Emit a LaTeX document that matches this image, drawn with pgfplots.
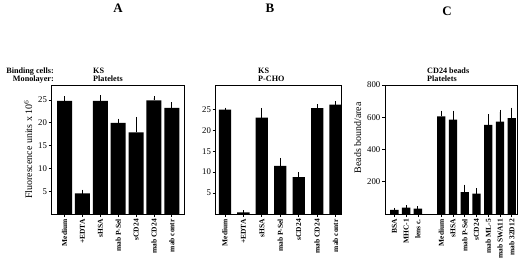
\documentclass[border=0pt]{standalone}
\usepackage{fontspec}
\setmainfont{Liberation Serif}
\usepackage{pgfplots}
\pgfplotsset{compat=1.18}
\pgfplotsset{
  panel/.style={
    scale only axis, anchor=south west,
    height=129bp,
    ybar, bar shift=0pt,
    axis line style={line width=0.7bp},
    tick align=outside, major tick length=3bp,
    every tick/.style={black, line width=0.7bp},
    xtick pos=bottom, ytick pos=left,
    ymin=0,
    /pgf/number format/assume math mode=true,
    yticklabel style={font=\fontsize{8.8}{9}\selectfont, inner sep=1.5bp},
    xticklabel style={font=\bfseries\fontsize{7.5}{8}\selectfont, rotate=90, anchor=east, inner sep=2bp},
    ylabel style={font=\fontsize{10}{11}\selectfont},
    xtick=data,
  },
  barstyle/.style={fill=black, draw=none,
    error bars/.cd, y dir=plus, y explicit,
    error bar style={black, line width=0.8bp},
    error mark options={black, mark size=2.2bp, line width=0.8bp}},
}
\begin{document}
\begin{tikzpicture}
\path[use as bounding box] (0bp,0bp) rectangle (520bp,267bp);
% headers
\node[font=\bfseries\fontsize{13}{14}\selectfont] at (118bp,259bp) {A};
\node[font=\bfseries\fontsize{13}{14}\selectfont] at (270bp,259bp) {B};
\node[font=\bfseries\fontsize{13}{14}\selectfont] at (447bp,256bp) {C};
\node[font=\bfseries\fontsize{8.2}{9}\selectfont, anchor=base east, inner sep=0] at (54bp,193bp) {Binding cells:};
\node[font=\bfseries\fontsize{8.2}{9}\selectfont, anchor=base east, inner sep=0] at (54bp,185bp) {Monolayer:};
\node[font=\bfseries\fontsize{8.2}{9}\selectfont, anchor=base west, inner sep=0] at (93bp,193bp) {KS};
\node[font=\bfseries\fontsize{8.2}{9}\selectfont, anchor=base west, inner sep=0] at (93bp,185bp) {Platelets};
\node[font=\bfseries\fontsize{8.2}{9}\selectfont, anchor=base west, inner sep=0] at (258bp,193bp) {KS};
\node[font=\bfseries\fontsize{8.2}{9}\selectfont, anchor=base west, inner sep=0] at (258bp,185bp) {P-CHO};
\node[font=\bfseries\fontsize{8.2}{9}\selectfont, anchor=base west, inner sep=0] at (427bp,193bp) {CD24 beads};
\node[font=\bfseries\fontsize{8.2}{9}\selectfont, anchor=base west, inner sep=0] at (427bp,185bp) {Platelets};

% Panel A
\begin{axis}[panel, at={(51.7bp,53bp)}, width=133bp,
  xmin=-0.72, xmax=6.72, ymax=28.3, bar width=15bp,
  ytick={5,10,15,20,25},
  xticklabels={Medium,+EDTA,sHSA,mab P-Sel,sCD24,mab CD24,mab contr},
  ylabel={Fluorescence units x 10$^6$}, ylabel style={at={(ticklabel cs:0.5)}, yshift=1bp}]
\addplot+[barstyle] table[x=x,y=y,y error=e] {
x y e
0 24.8 0.6
1 4.5 0.35
2 24.8 0.8
3 20.0 0.45
4 17.9 2.9
5 24.9 0.5
6 23.3 0.7
};
\end{axis}

% Panel B
\begin{axis}[panel, at={(215.7bp,53bp)}, width=126bp,
  xmin=-0.5, xmax=6.33, ymax=30.8, bar width=12.3bp,
  ytick={5,10,15,20,25},
  xticklabels={Medium,+EDTA,sHSA,mab P-Sel,sCD24,mab CD24,mab contr}]
\addplot+[barstyle] table[x=x,y=y,y error=e] {
x y e
0 24.9 0
1 0.4 0
2 23.0 1.8
3 11.5 1.4
4 8.8 0.7
5 25.3 0.4
6 26.1 0.3
};
\end{axis}

% Panel C
\begin{axis}[panel, at={(385bp,53bp)}, width=132bp,
  xmin=-0.8, xmax=10.45, ymax=800, bar width=8.3bp,
  ytick={200,400,600,800},
  xtick={0,1,2,4,5,6,7,8,9,10},
  xticklabels={BSA,MHC-1,lens c.,Medium,sHSA,mab P-Sel,sCD24,mab ML-5,mab SWA11,mab 32D12},
  ylabel={Beads bound/area}, ylabel style={at={(ticklabel cs:0.59)}, yshift=1bp}]
\addplot+[barstyle] table[x=x,y=y,y error=e] {
x y e
0 25 0
1 40 0
2 34 0
4 606 21
5 585 42
6 135 33
7 126 21
8 552 54
9 573 59
10 594 52
};
\end{axis}
\end{tikzpicture}
\end{document}
